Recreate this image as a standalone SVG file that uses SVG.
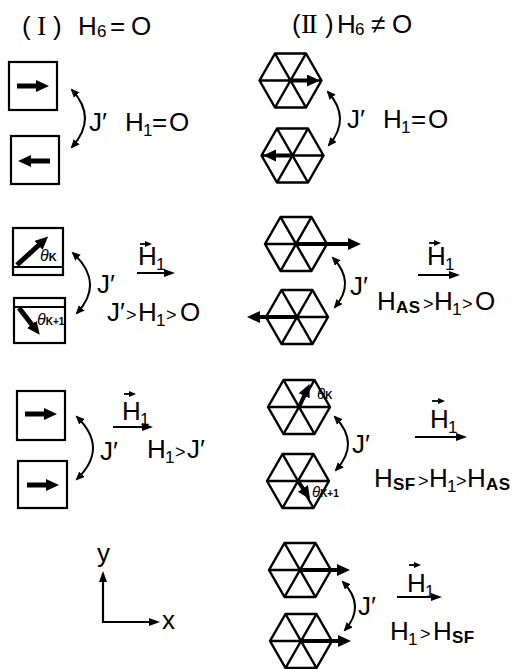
<svg xmlns="http://www.w3.org/2000/svg" width="514" height="669" viewBox="0 0 514 669">
<style>
.t{font-family:"Liberation Sans",Arial,sans-serif;font-size:26px;fill:#000}
.rm{font-family:"Liberation Serif","Times New Roman",serif;font-size:28px}
.s{font-size:17px}
.g{font-size:18px}
.b{font-size:17px;font-weight:bold;letter-spacing:0.5px}
.th{font-family:"Liberation Sans",Arial,sans-serif;font-style:italic;fill:#000}
.box{fill:none;stroke:#000;stroke-width:2.2}
.hex{fill:none;stroke:#000;stroke-width:2.5;stroke-linejoin:round}
.spin{stroke:#000;stroke-width:5;fill:none;marker-end:url(#sh)}
.hspin{stroke:#000;stroke-width:4;fill:none;marker-end:url(#sh)}
.cur{stroke:#000;stroke-width:2;fill:none;marker-start:url(#ca);marker-end:url(#ca)}
.fld{stroke:#000;stroke-width:2.2;fill:none;marker-end:url(#ah)}
.vec{stroke:#000;stroke-width:1.8;fill:none;marker-end:url(#va)}
.ax{stroke:#000;stroke-width:2.2;fill:none;marker-end:url(#ah)}
</style>
<defs>
<marker id="ah" markerUnits="userSpaceOnUse" markerWidth="14" markerHeight="10" refX="8" refY="4" orient="auto"><path d="M0,0 L11,4 L0,8 Z" fill="#000"/></marker>
<marker id="va" markerUnits="userSpaceOnUse" markerWidth="10" markerHeight="8" refX="5" refY="3" orient="auto"><path d="M0,0 L7,3 L0,6 Z" fill="#000"/></marker>
<marker id="sh" markerUnits="userSpaceOnUse" markerWidth="16" markerHeight="14" refX="2" refY="6" orient="auto"><path d="M0,0 L13,6 L0,12 Z" fill="#000"/></marker>
<marker id="ca" markerUnits="userSpaceOnUse" markerWidth="12" markerHeight="10" refX="7" refY="4" orient="auto-start-reverse"><path d="M0,0 L9,4 L0,8 Z" fill="#000"/></marker>
<path id="hx" d="M-31,0 L-15.5,-27 L15.5,-27 L31,0 L15.5,27 L-15.5,27 Z M-31,0 L31,0 M-15.5,-27 L15.5,27 M15.5,-27 L-15.5,27"/>
</defs>

<g id="titles">
<text class="t" y="35"><tspan x="22">(</tspan><tspan x="37" class="rm">I</tspan><tspan x="53">)</tspan><tspan x="78">H</tspan><tspan x="97" dy="2" class="s">6</tspan><tspan x="110" dy="-2">=</tspan><tspan x="131">O</tspan></text>
<text class="t" y="33"><tspan x="292">(</tspan><tspan x="301" class="rm" letter-spacing="-2">II</tspan><tspan x="325">)</tspan><tspan x="337">H</tspan><tspan x="355" dy="2" class="s">6</tspan><tspan x="371" dy="-2">≠</tspan><tspan x="392">O</tspan></text>
</g>

<!-- Row 1, case I -->
<g id="box-r1-a"><rect class="box" x="9" y="62" width="48" height="48"/><line class="spin" x1="17" y1="86" x2="38" y2="86"/></g>
<g id="box-r1-b"><rect class="box" x="11" y="136" width="48" height="48"/><line class="spin" x1="50" y1="161" x2="29" y2="161"/></g>
<g id="label-r1-a"><text class="t" y="131"><tspan x="89">J′</tspan><tspan x="125">H</tspan><tspan x="143" dy="5" class="s">1</tspan><tspan x="152" dy="-5">=</tspan><tspan x="169">O</tspan></text></g>

<!-- Row 1, case II -->
<g id="hex-r1-a"><use href="#hx" class="hex" x="290.5" y="80.5"/><line class="hspin" x1="290.5" y1="80.5" x2="309" y2="80.5"/></g>
<g id="hex-r1-b"><use href="#hx" class="hex" x="292.5" y="155.5"/><line class="hspin" x1="292.5" y1="155.5" x2="274" y2="155.5"/></g>
<g id="label-r1-b"><text class="t" y="128"><tspan x="347">J′</tspan><tspan x="383">H</tspan><tspan x="401" dy="5" class="s">1</tspan><tspan x="411" dy="-5">=</tspan><tspan x="428">O</tspan></text></g>

<!-- Row 2, case I -->
<g id="box-r2-a"><rect class="box" x="13" y="228" width="50" height="47"/><line class="box" x1="13" y1="267" x2="63" y2="267"/><line class="spin" x1="17" y1="265" x2="40" y2="244"/><text class="th" x="40" y="261" font-size="16">θ<tspan font-size="11" font-style="normal" font-weight="bold">K</tspan></text></g>
<g id="box-r2-b"><rect class="box" x="14" y="298" width="51" height="45"/><line class="box" x1="14" y1="307" x2="65" y2="307"/><line class="spin" x1="19" y1="308" x2="33" y2="326"/><text class="th" x="37" y="325" font-size="16">θ<tspan font-size="10" font-style="normal" font-weight="bold">K+1</tspan></text></g>
<g id="label-r2-a">
<text class="t" y="293" x="97">J′</text>
<text class="t" y="265"><tspan x="138">H</tspan><tspan x="156" dy="5" class="s">1</tspan></text>
<line class="vec" x1="140" y1="244" x2="150" y2="244"/>
<line class="fld" x1="137" y1="273" x2="172" y2="273"/>
<text class="t" y="321"><tspan x="107">J′</tspan><tspan x="126" class="g">&gt;</tspan><tspan x="138">H</tspan><tspan x="156" dy="5" class="s">1</tspan><tspan x="166" dy="-5" class="g">&gt;</tspan><tspan x="180">O</tspan></text>
</g>

<!-- Row 2, case II -->
<g id="hex-r2-a"><use href="#hx" class="hex" x="296" y="244"/><line class="hspin" x1="296" y1="244" x2="350" y2="244"/></g>
<g id="hex-r2-b"><use href="#hx" class="hex" x="297" y="317"/><line class="hspin" x1="297" y1="317" x2="258" y2="317"/></g>
<g id="label-r2-b">
<text class="t" y="295" x="350">J′</text>
<text class="t" y="265"><tspan x="427">H</tspan><tspan x="445" dy="5" class="s">1</tspan></text>
<line class="vec" x1="429" y1="243" x2="439" y2="243"/>
<line class="fld" x1="418" y1="275" x2="457" y2="275"/>
<text class="t" y="310"><tspan x="377">H</tspan><tspan x="396" dy="3" class="b">AS</tspan><tspan x="423" dy="-3" class="g">&gt;</tspan><tspan x="434">H</tspan><tspan x="452" dy="5" class="s">1</tspan><tspan x="462" dy="-5" class="g">&gt;</tspan><tspan x="475">O</tspan></text>
</g>

<!-- Row 3, case I -->
<g id="box-r3-a"><rect class="box" x="17" y="391" width="48" height="49"/><line class="spin" x1="25" y1="414" x2="46" y2="414"/></g>
<g id="box-r3-b"><rect class="box" x="18" y="461" width="49" height="47"/><line class="spin" x1="27" y1="485" x2="48" y2="485"/></g>
<g id="label-r3-a">
<text class="t" y="460" x="100">J′</text>
<text class="t" y="420"><tspan x="122">H</tspan><tspan x="140" dy="5" class="s">1</tspan></text>
<line class="vec" x1="124" y1="394" x2="134" y2="394"/>
<line class="fld" x1="113" y1="427" x2="150" y2="427"/>
<text class="t" y="458"><tspan x="147">H</tspan><tspan x="165" dy="5" class="s">1</tspan><tspan x="175" dy="-5" class="g">&gt;</tspan><tspan x="187">J′</tspan></text>
</g>

<!-- Row 3, case II -->
<g id="hex-r3-a"><use href="#hx" class="hex" x="299" y="407"/><line class="hspin" x1="299" y1="407" x2="305" y2="394"/><text class="th" x="317" y="399" font-size="15">θ<tspan font-size="10" font-style="normal" font-weight="bold">K</tspan></text></g>
<g id="hex-r3-b"><use href="#hx" class="hex" x="298" y="481"/><line class="hspin" x1="298" y1="481" x2="304" y2="490"/><text class="th" x="312" y="497" font-size="15">θ<tspan font-size="10" font-style="normal" font-weight="bold">K+1</tspan></text></g>
<g id="label-r3-b">
<text class="t" y="453" x="352">J′</text>
<text class="t" y="428"><tspan x="430">H</tspan><tspan x="448" dy="5" class="s">1</tspan></text>
<line class="vec" x1="432" y1="401" x2="443" y2="401"/>
<line class="fld" x1="415" y1="437" x2="464" y2="437"/>
<text class="t" y="487"><tspan x="374">H</tspan><tspan x="393" dy="3" class="b">SF</tspan><tspan x="418" dy="-3" class="g">&gt;</tspan><tspan x="429">H</tspan><tspan x="447" dy="5" class="s">1</tspan><tspan x="456" dy="-5" class="g">&gt;</tspan><tspan x="467">H</tspan><tspan x="486" dy="3" class="b">AS</tspan></text>
</g>

<!-- Row 4 -->
<g id="axes">
<line class="ax" x1="103" y1="623" x2="103" y2="574"/>
<line class="ax" x1="102" y1="622" x2="157" y2="622"/>
<text class="t" x="97" y="562" font-size="24">y</text>
<text class="t" x="162" y="629" font-size="24">x</text>
</g>
<g id="hex-r4-a"><use href="#hx" class="hex" x="300" y="570"/><line class="hspin" x1="300" y1="570" x2="339" y2="570"/></g>
<g id="hex-r4-b"><use href="#hx" class="hex" x="301" y="641"/><line class="hspin" x1="301" y1="641" x2="340" y2="641"/></g>
<g id="label-r4-b">
<text class="t" y="615" x="358">J′</text>
<text class="t" y="592"><tspan x="407">H</tspan><tspan x="425" dy="5" class="s">1</tspan></text>
<line class="vec" x1="409" y1="565" x2="419" y2="565"/>
<line class="fld" x1="397" y1="597" x2="439" y2="597"/>
<text class="t" y="640"><tspan x="390">H</tspan><tspan x="408" dy="5" class="s">1</tspan><tspan x="420" dy="-5" class="g">&gt;</tspan><tspan x="433">H</tspan><tspan x="452" dy="3" class="b">SF</tspan></text>
</g>

<g id="connectors">
<path class="cur" d="M72,90 Q98,118 72,147"/>
<path class="cur" d="M328,92 Q351.5,118.5 329,145"/>
<path class="cur" d="M73,253 Q105,283 77,313"/>
<path class="cur" d="M333,258 Q356,282.5 335,307"/>
<path class="cur" d="M77,417 Q109,448 77,479"/>
<path class="cur" d="M335,417 Q360.5,443.5 336,470"/>
<path class="cur" d="M343,582 Q366,606 345,630"/>
</g>
</svg>
